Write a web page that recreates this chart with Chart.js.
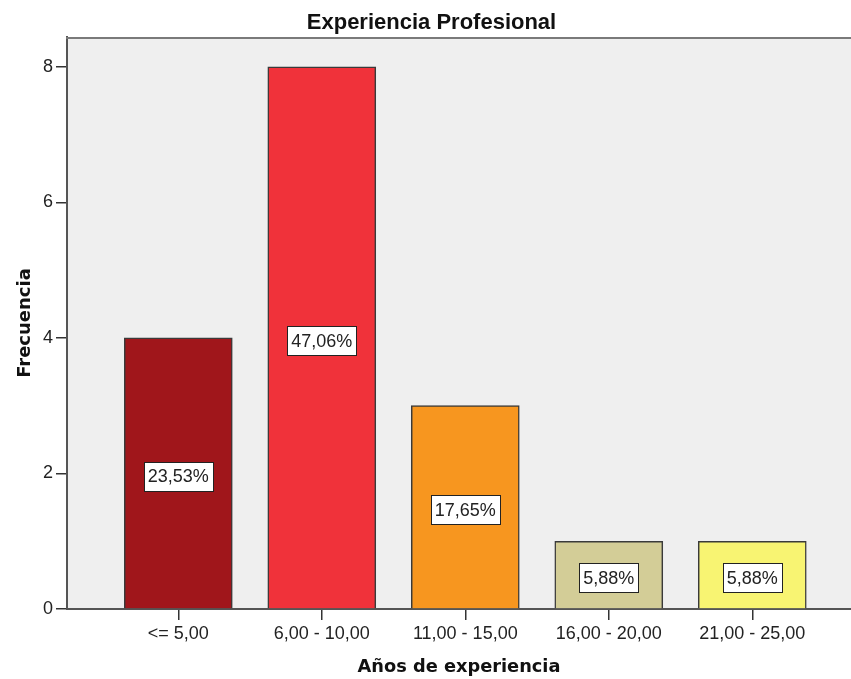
<!DOCTYPE html>
<html>
<head>
<meta charset="utf-8">
<script src="https://cdn.jsdelivr.net/npm/chart.js@4/dist/chart.umd.min.js"></script>
<style>
  html, body { margin: 0; padding: 0; background: #ffffff; }
  #wrap { width: 851px; height: 679px; }
</style>
</head>
<body>
<div id="wrap"><canvas id="c" width="851" height="679"></canvas></div>
<script>
// ---- data ----
const categories = ['<= 5,00', '6,00 - 10,00', '11,00 - 15,00', '16,00 - 20,00', '21,00 - 25,00'];
const frequencies = [4, 8, 3, 1, 1];
const percentLabels = ['23,53%', '47,06%', '17,65%', '5,88%', '5,88%'];
const yTickValues = [0, 2, 4, 6, 8];
const barColors = ['#a0161b', '#f0323a', '#f7961f', '#d3cd97', '#f8f472'];

const chartTitle = 'Experiencia Profesional';
const xTitle = 'Años de experiencia';
const yTitle = 'Frecuencia';

const points = categories.map((c, i) => ({ x: i, y: frequencies[i] }));

const plotFrame = {
  id: 'plotFrame',
  beforeDraw(chart) {
    const { ctx, chartArea: a } = chart;
    ctx.save();
    ctx.fillStyle = '#efefef';
    ctx.fillRect(a.left, a.top, a.right - a.left, a.bottom - a.top);
    ctx.restore();
  },
  afterDraw(chart) {
    const { ctx, chartArea: a } = chart;
    ctx.save();
    ctx.strokeStyle = '#7a7a7a';
    ctx.lineWidth = 2;
    ctx.beginPath();
    ctx.moveTo(a.left - 1, a.top + 1);
    ctx.lineTo(a.right, a.top + 1);
    ctx.stroke();
    ctx.restore();
  }
};

const boxLabels = {
  id: 'boxLabels',
  afterDatasetsDraw(chart) {
    const { ctx } = chart;
    const meta = chart.getDatasetMeta(0);
    ctx.save();
    ctx.font = '18px "Liberation Sans", Arial, sans-serif';
    ctx.textAlign = 'center';
    ctx.textBaseline = 'middle';
    meta.data.forEach((bar, i) => {
      const txt = percentLabels[i];
      const cx = bar.x;
      const cy = (bar.y + bar.base) / 2 + 3;
      const w = ctx.measureText(txt).width + 8;
      const h = 29;
      const x0 = Math.round(cx - w / 2) + 0.5;
      const y0 = Math.round(cy - h / 2) + 0.5;
      ctx.fillStyle = '#ffffff';
      ctx.fillRect(x0, y0, Math.round(w), h);
      ctx.strokeStyle = '#222222';
      ctx.lineWidth = 1;
      ctx.strokeRect(x0, y0, Math.round(w), h);
      ctx.fillStyle = '#222222';
      ctx.fillText(txt, cx, cy + 1);
    });
    ctx.restore();
  }
};

new Chart(document.getElementById('c'), {
  type: 'bar',
  data: {
    datasets: [{
      data: points,
      backgroundColor: barColors,
      borderColor: '#3a3a3a',
      borderWidth: 1.5,
      barThickness: 108
    }]
  },
  options: {
    responsive: false,
    animation: false,
    devicePixelRatio: 1,
    layout: { padding: { left: 12, right: 0, top: 0, bottom: 0 } },
    plugins: {
      legend: { display: false },
      tooltip: { enabled: false },
      title: {
        display: true,
        text: chartTitle,
        color: '#111111',
        font: { family: '"Liberation Sans", Arial, sans-serif', size: 22, weight: 'bold', lineHeight: 1.2 },
        padding: { top: 9.6, bottom: 1 }
      }
    },
    scales: {
      x: {
        type: 'linear',
        offset: false,
        min: -0.7756,
        max: 4.688,
        afterBuildTicks(scale) { scale.ticks = categories.map((c, i) => ({ value: i })); },
        afterFit(scale) { scale.height = 70; },
        ticks: {
          autoSkip: false,
          maxRotation: 0,
          padding: 3,
          color: '#222222',
          font: { family: '"Liberation Sans", Arial, sans-serif', size: 18 },
          callback: (v) => categories[v]
        },
        grid: { display: true, drawOnChartArea: false, drawTicks: true, tickLength: 11, color: '#333333', lineWidth: 1.5, offset: false },
        border: { display: true, color: '#555555', width: 2 },
        title: {
          display: true,
          text: xTitle,
          color: '#111111',
          font: { family: '"DejaVu Sans", Verdana, sans-serif', size: 17.8, weight: 'bold', lineHeight: 1.2 },
          padding: { top: 0, bottom: 1.3 }
        }
      },
      y: {
        min: 0,
        max: 8.44,
        afterBuildTicks(scale) { scale.ticks = yTickValues.map(v => ({ value: v })); },
        afterFit(scale) { scale.width = 55; },
        ticks: {
          padding: 3,
          color: '#222222',
          font: { family: '"Liberation Sans", Arial, sans-serif', size: 18 }
        },
        grid: { display: true, drawOnChartArea: false, drawTicks: true, tickLength: 11, color: '#333333', lineWidth: 1.5 },
        border: { display: true, color: '#555555', width: 2 },
        title: {
          display: true,
          text: yTitle,
          color: '#111111',
          font: { family: '"DejaVu Sans", Verdana, sans-serif', size: 18, weight: 'bold', lineHeight: 1.2 },
          padding: { top: 2.2, bottom: 0 }
        }
      }
    }
  },
  plugins: [plotFrame, boxLabels]
});
</script>
</body>
</html>
